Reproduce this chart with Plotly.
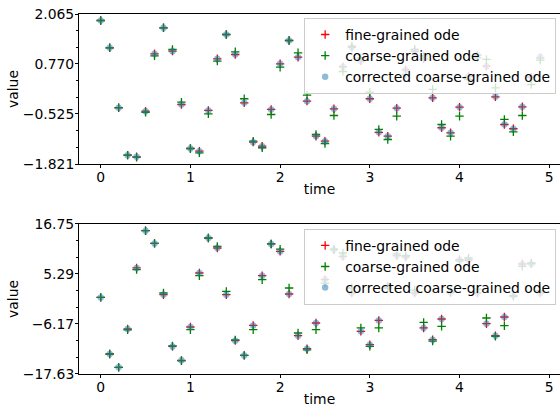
import plotly.graph_objects as go

time = [round(0.1 * i, 1) for i in range(50)]

fine_top = [1.897, 1.189, -0.365, -1.592, -1.634, -0.452, 1.034, 1.707, 1.102, -0.279,
            -1.419, -1.488, -0.434, 0.905, 1.534, 1.016, -0.235, -1.255, -1.359, -0.408,
            0.775, 1.379, 0.946, -0.193, -1.100, -1.229, -0.391, 0.700, 1.200, 0.850,
            -0.131, -1.000, -1.100, -0.375, 0.620, 1.100, 0.900, -0.106, -0.882, -1.012,
            -0.349, 0.450, 1.000, 0.713, -0.080, -0.797, -0.908, -0.339, 0.427, 0.930]
coarse_top = [1.897, 1.189, -0.360, -1.592, -1.645, -0.480, 0.980, 1.707, 1.145, -0.219,
              -1.419, -1.530, -0.520, 0.843, 1.534, 1.086, -0.131, -1.229, -1.400, -0.538,
              0.687, 1.379, 1.060, -0.038, -1.056, -1.290, -0.564, 0.576, 1.231, 0.930,
              0.040, -0.926, -1.186, -0.582, 0.500, 1.150, 0.980, 0.110, -0.797, -1.100,
              -0.582, 0.368, 0.930, 0.887, 0.153, -0.667, -0.986, -0.564, 0.239, 0.870]
corrected_top = [1.897, 1.189, -0.365, -1.592, -1.634, -0.452, 1.034, 1.707, 1.102, -0.279,
                 -1.419, -1.488, -0.434, 0.905, 1.534, 1.016, -0.235, -1.255, -1.359, -0.408,
                 0.775, 1.379, 0.946, -0.193, -1.100, -1.229, -0.391, 0.700, 1.200, 0.850,
                 -0.131, -1.000, -1.100, -0.375, 0.620, 1.100, 0.900, -0.106, -0.882, -1.012,
                 -0.349, 0.450, 1.000, 0.713, -0.080, -0.797, -0.908, -0.339, 0.427, 0.960]

fine_bot = [-0.07, -13.05, -16.10, -7.32, 6.67, 15.21, 12.30, 0.55, -11.30, -14.50,
            -6.86, 5.52, 13.54, 11.25, 0.55, -9.99, -13.37, -6.49, 4.90, 12.17,
            10.47, 0.71, -8.85, -11.83, -5.94, 4.00, 10.86, 9.32, 0.94, -7.86,
            -10.92, -5.34, 2.50, 9.48, 9.20, 0.94, -7.08, -9.77, -5.03, 1.00,
            8.57, 8.50, 0.94, -6.10, -8.85, -4.57, 0.30, 7.58, 7.60, 0.94]
coarse_bot = [-0.07, -13.05, -16.10, -7.50, 6.30, 15.21, 12.30, 0.93, -11.20, -14.60,
              -7.48, 4.90, 13.54, 11.62, 1.30, -9.80, -13.37, -7.48, 3.98, 12.17,
              11.00, 2.08, -8.23, -12.10, -7.48, 3.20, 11.00, 10.10, 2.08, -7.08,
              -11.30, -7.08, 2.08, 9.90, 9.48, 1.60, -5.80, -10.10, -6.72, 1.30,
              8.30, 8.96, 1.80, -4.80, -9.00, -6.56, 0.16, 7.03, 7.81, 1.50]
corrected_bot = [-0.07, -13.05, -16.10, -7.32, 6.67, 15.21, 12.30, 0.55, -11.30, -14.50,
                 -6.86, 5.52, 13.54, 11.25, 0.55, -9.99, -13.37, -6.49, 4.90, 12.17,
                 10.47, 0.71, -8.85, -11.83, -5.94, 4.00, 10.86, 9.32, 0.94, -7.86,
                 -10.92, -5.34, 2.50, 9.48, 9.20, 0.94, -7.08, -9.77, -5.03, 1.00,
                 8.57, 8.50, 0.94, -6.10, -8.85, -4.57, 0.30, 7.58, 7.60, 0.94]

top_ticks = [-1.821, -0.525, 0.770, 2.065]
top_labels = ["\u22121.821", "\u22120.525", "0.770", "2.065"]
bot_ticks = [-17.63, -6.17, 5.29, 16.75]
bot_labels = ["\u221217.63", "\u22126.17", "5.29", "16.75"]
x_ticks = [0, 1, 2, 3, 4, 5]

FONT = "DejaVu Sans"
FS = 13.9


def minor_vals(ticks):
    out = []
    for a, b in zip(ticks[:-1], ticks[1:]):
        step = (b - a) / 3
        out += [a + step, a + 2 * step]
    return out


fig = go.Figure()


def add_panel(xa, ya, leg, fine, coarse, corr):
    fig.add_trace(go.Scatter(x=time, y=fine, mode="markers", name="fine-grained ode",
                             xaxis=xa, yaxis=ya, legend=leg,
                             marker=dict(symbol="cross-thin", size=6,
                                         line=dict(color="#ff0000", width=1.3))))
    fig.add_trace(go.Scatter(x=time, y=coarse, mode="markers", name="coarse-grained ode",
                             xaxis=xa, yaxis=ya, legend=leg,
                             marker=dict(symbol="cross-thin", size=6,
                                         line=dict(color="#008000", width=1.3))))
    fig.add_trace(go.Scatter(x=time, y=corr, mode="markers",
                             name="corrected coarse-grained ode",
                             xaxis=xa, yaxis=ya, legend=leg,
                             marker=dict(symbol="circle", size=6.5,
                                         color="rgba(31,119,180,0.5)",
                                         line=dict(width=0))))


add_panel("x", "y", "legend", fine_top, coarse_top, corrected_top)
add_panel("x2", "y2", "legend2", fine_bot, coarse_bot, corrected_bot)

xrange = [-0.242, 5.12]
common_x = dict(range=xrange, tickvals=x_ticks, ticktext=[str(v) for v in x_ticks],
                ticks="outside", ticklen=3, tickwidth=1, tickcolor="black",
                ticklabelstandoff=-3,
                showline=True, linecolor="black", linewidth=1, mirror=True,
                showgrid=False, zeroline=False,
                tickfont=dict(family=FONT, size=FS, color="black"),
                title=dict(text="time", font=dict(family=FONT, size=FS, color="black"),
                           standoff=0))


def yax(ticks, labels, domain, anchor):
    return dict(range=[ticks[0], ticks[-1]], tickvals=ticks, ticktext=labels,
                domain=domain, anchor=anchor,
                ticks="outside", ticklen=3, tickwidth=1, tickcolor="black",
                ticklabelstandoff=-2,
                minor=dict(tickvals=minor_vals(ticks), ticks="outside", ticklen=2,
                           tickwidth=1, tickcolor="black"),
                showline=True, linecolor="black", linewidth=1, mirror=False,
                showgrid=False, zeroline=False,
                tickfont=dict(family=FONT, size=FS, color="black"),
                title=dict(text="value", font=dict(family=FONT, size=FS, color="black"),
                           standoff=0))


legend_common = dict(bgcolor="rgba(255,255,255,0.8)", bordercolor="#cccccc",
                     borderwidth=1, xanchor="right", yanchor="top",
                     font=dict(family=FONT, size=FS, color="black"),
                     tracegroupgap=0, itemsizing="trace")

fig.update_layout(
    width=560, height=407,
    margin=dict(l=79, r=0, t=14, b=33),
    paper_bgcolor="white", plot_bgcolor="white",
    showlegend=True,
    xaxis=dict(common_x, anchor="y", domain=[0, 1]),
    yaxis=yax(top_ticks, top_labels, [0.5833, 1.0], "x"),
    xaxis2=dict(common_x, anchor="y2", domain=[0, 1]),
    yaxis2=yax(bot_ticks, bot_labels, [0.0, 0.4167], "x2"),
    legend=dict(legend_common, x=0.992, y=0.989),
    legend2=dict(legend_common, x=0.992, y=0.403),
)

fig.write_html("out.html")
